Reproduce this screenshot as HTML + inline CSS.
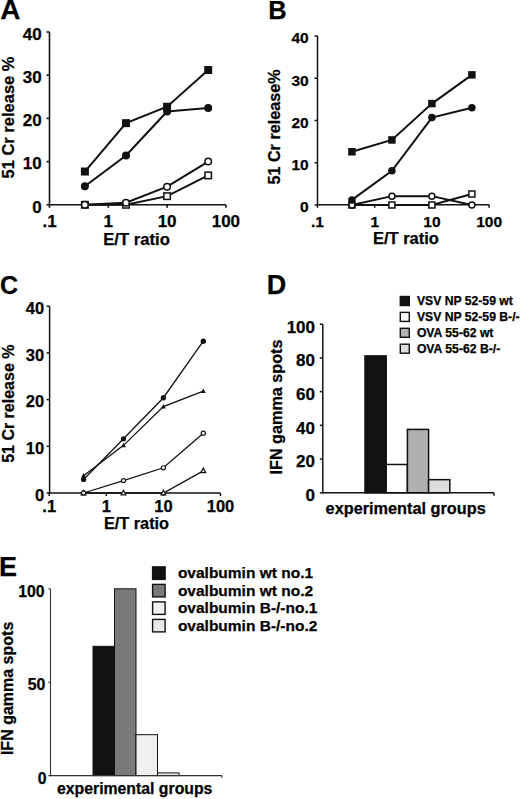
<!DOCTYPE html>
<html><head><meta charset="utf-8"><style>
html,body{margin:0;padding:0;background:#fff;}
svg{display:block;}
text{font-family:"Liberation Sans",sans-serif;font-weight:bold;fill:#000;stroke:#000;stroke-width:0.25px;paint-order:stroke;}
</style></head><body>
<svg width="520" height="799" viewBox="0 0 520 799">
<rect width="520" height="799" fill="#fff"/>
<text x="0.30" y="19.20" font-size="28" text-anchor="start" >A</text>
<line x1="49.50" y1="32.00" x2="49.50" y2="205.55" stroke="#111" stroke-width="1.6"/>
<line x1="48.75" y1="204.80" x2="225.90" y2="204.80" stroke="#111" stroke-width="1.6"/>
<line x1="46.50" y1="204.80" x2="49.50" y2="204.80" stroke="#111" stroke-width="1.6"/>
<text x="41.70" y="212.60" font-size="17" text-anchor="end" >0</text>
<line x1="46.50" y1="161.60" x2="49.50" y2="161.60" stroke="#111" stroke-width="1.6"/>
<text x="41.70" y="169.40" font-size="17" text-anchor="end" >10</text>
<line x1="46.50" y1="118.40" x2="49.50" y2="118.40" stroke="#111" stroke-width="1.6"/>
<text x="41.70" y="126.20" font-size="17" text-anchor="end" >20</text>
<line x1="46.50" y1="75.20" x2="49.50" y2="75.20" stroke="#111" stroke-width="1.6"/>
<text x="41.70" y="83.00" font-size="17" text-anchor="end" >30</text>
<line x1="46.50" y1="32.00" x2="49.50" y2="32.00" stroke="#111" stroke-width="1.6"/>
<text x="41.70" y="39.80" font-size="17" text-anchor="end" >40</text>
<line x1="49.50" y1="204.80" x2="49.50" y2="207.80" stroke="#111" stroke-width="1.6"/>
<text x="49.50" y="226.80" font-size="17" text-anchor="middle" >.1</text>
<line x1="108.30" y1="204.80" x2="108.30" y2="207.80" stroke="#111" stroke-width="1.6"/>
<text x="108.30" y="226.80" font-size="17" text-anchor="middle" >1</text>
<line x1="167.10" y1="204.80" x2="167.10" y2="207.80" stroke="#111" stroke-width="1.6"/>
<text x="167.10" y="226.80" font-size="17" text-anchor="middle" >10</text>
<line x1="225.90" y1="204.80" x2="225.90" y2="207.80" stroke="#111" stroke-width="1.6"/>
<text x="225.90" y="226.80" font-size="17" text-anchor="middle" >100</text>
<text x="103.20" y="244.80" font-size="16.7" text-anchor="start" >E/T ratio</text>
<text x="0" y="0" font-size="16.5" text-anchor="middle" transform="translate(13.80,117.50) rotate(-90)">51 Cr release %</text>
<polyline points="84.90,204.80 126.00,204.80 167.10,196.16 208.20,175.42" fill="none" stroke="#111" stroke-width="2" stroke-linejoin="miter"/>
<polyline points="84.90,204.80 126.00,202.64 167.10,186.66 208.20,161.60" fill="none" stroke="#111" stroke-width="2" stroke-linejoin="miter"/>
<polyline points="84.90,186.22 126.00,155.55 167.10,111.49 208.20,108.03" fill="none" stroke="#111" stroke-width="2" stroke-linejoin="miter"/>
<polyline points="84.90,171.54 126.00,123.15 167.10,106.74 208.20,70.02" fill="none" stroke="#111" stroke-width="2" stroke-linejoin="miter"/>
<rect x="81.65" y="201.55" width="6.5" height="6.5" fill="#fff" stroke="#111" stroke-width="1.5"/>
<rect x="122.75" y="201.55" width="6.5" height="6.5" fill="#fff" stroke="#111" stroke-width="1.5"/>
<rect x="163.85" y="192.91" width="6.5" height="6.5" fill="#fff" stroke="#111" stroke-width="1.5"/>
<rect x="204.95" y="172.17" width="6.5" height="6.5" fill="#fff" stroke="#111" stroke-width="1.5"/>
<circle cx="84.90" cy="204.80" r="3.25" fill="#fff" stroke="#111" stroke-width="1.5"/>
<circle cx="126.00" cy="202.64" r="3.25" fill="#fff" stroke="#111" stroke-width="1.5"/>
<circle cx="167.10" cy="186.66" r="3.25" fill="#fff" stroke="#111" stroke-width="1.5"/>
<circle cx="208.20" cy="161.60" r="3.25" fill="#fff" stroke="#111" stroke-width="1.5"/>
<circle cx="84.90" cy="186.22" r="4.0" fill="#111"/>
<circle cx="126.00" cy="155.55" r="4.0" fill="#111"/>
<circle cx="167.10" cy="111.49" r="4.0" fill="#111"/>
<circle cx="208.20" cy="108.03" r="4.0" fill="#111"/>
<rect x="80.90" y="167.54" width="8" height="8" fill="#111"/>
<rect x="122.00" y="119.15" width="8" height="8" fill="#111"/>
<rect x="163.10" y="102.74" width="8" height="8" fill="#111"/>
<rect x="204.20" y="66.02" width="8" height="8" fill="#111"/>
<text x="268.30" y="19.40" font-size="25.5" text-anchor="start" >B</text>
<line x1="317.50" y1="36.00" x2="317.50" y2="205.55" stroke="#111" stroke-width="1.5"/>
<line x1="316.75" y1="204.80" x2="489.10" y2="204.80" stroke="#111" stroke-width="1.5"/>
<line x1="314.50" y1="205.00" x2="317.50" y2="205.00" stroke="#111" stroke-width="1.5"/>
<text x="308.70" y="212.40" font-size="15.5" text-anchor="end" >0</text>
<line x1="314.50" y1="162.75" x2="317.50" y2="162.75" stroke="#111" stroke-width="1.5"/>
<text x="308.70" y="170.15" font-size="15.5" text-anchor="end" >10</text>
<line x1="314.50" y1="120.50" x2="317.50" y2="120.50" stroke="#111" stroke-width="1.5"/>
<text x="308.70" y="127.90" font-size="15.5" text-anchor="end" >20</text>
<line x1="314.50" y1="78.25" x2="317.50" y2="78.25" stroke="#111" stroke-width="1.5"/>
<text x="308.70" y="85.65" font-size="15.5" text-anchor="end" >30</text>
<line x1="314.50" y1="36.00" x2="317.50" y2="36.00" stroke="#111" stroke-width="1.5"/>
<text x="308.70" y="43.40" font-size="15.5" text-anchor="end" >40</text>
<line x1="317.50" y1="204.80" x2="317.50" y2="207.80" stroke="#111" stroke-width="1.5"/>
<text x="317.50" y="226.60" font-size="15.5" text-anchor="middle" >.1</text>
<line x1="374.70" y1="204.80" x2="374.70" y2="207.80" stroke="#111" stroke-width="1.5"/>
<text x="374.70" y="226.60" font-size="15.5" text-anchor="middle" >1</text>
<line x1="431.90" y1="204.80" x2="431.90" y2="207.80" stroke="#111" stroke-width="1.5"/>
<text x="431.90" y="226.60" font-size="15.5" text-anchor="middle" >10</text>
<line x1="489.10" y1="204.80" x2="489.10" y2="207.80" stroke="#111" stroke-width="1.5"/>
<text x="489.10" y="226.60" font-size="15.5" text-anchor="middle" >100</text>
<text x="372.90" y="243.50" font-size="16.5" text-anchor="start" >E/T ratio</text>
<text x="0" y="0" font-size="16.2" text-anchor="middle" transform="translate(280.40,127.00) rotate(-90)">51 Cr release%</text>
<polyline points="351.94,205.00 391.92,205.00 431.90,205.00 471.88,194.01" fill="none" stroke="#111" stroke-width="2" stroke-linejoin="miter"/>
<polyline points="351.94,205.00 391.92,196.13 431.90,196.13 471.88,205.00" fill="none" stroke="#111" stroke-width="2" stroke-linejoin="miter"/>
<polyline points="351.94,199.93 391.92,170.78 431.90,117.54 471.88,107.83" fill="none" stroke="#111" stroke-width="2" stroke-linejoin="miter"/>
<polyline points="351.94,151.77 391.92,139.94 431.90,103.60 471.88,74.87" fill="none" stroke="#111" stroke-width="2" stroke-linejoin="miter"/>
<rect x="348.94" y="202.00" width="6.0" height="6.0" fill="#fff" stroke="#111" stroke-width="1.5"/>
<rect x="388.92" y="202.00" width="6.0" height="6.0" fill="#fff" stroke="#111" stroke-width="1.5"/>
<rect x="428.90" y="202.00" width="6.0" height="6.0" fill="#fff" stroke="#111" stroke-width="1.5"/>
<rect x="468.88" y="191.01" width="6.0" height="6.0" fill="#fff" stroke="#111" stroke-width="1.5"/>
<circle cx="351.94" cy="205.00" r="3.0" fill="#fff" stroke="#111" stroke-width="1.5"/>
<circle cx="391.92" cy="196.13" r="3.0" fill="#fff" stroke="#111" stroke-width="1.5"/>
<circle cx="431.90" cy="196.13" r="3.0" fill="#fff" stroke="#111" stroke-width="1.5"/>
<circle cx="471.88" cy="205.00" r="3.0" fill="#fff" stroke="#111" stroke-width="1.5"/>
<circle cx="351.94" cy="199.93" r="3.75" fill="#111"/>
<circle cx="391.92" cy="170.78" r="3.75" fill="#111"/>
<circle cx="431.90" cy="117.54" r="3.75" fill="#111"/>
<circle cx="471.88" cy="107.83" r="3.75" fill="#111"/>
<rect x="348.19" y="148.02" width="7.5" height="7.5" fill="#111"/>
<rect x="388.17" y="136.19" width="7.5" height="7.5" fill="#111"/>
<rect x="428.15" y="99.85" width="7.5" height="7.5" fill="#111"/>
<rect x="468.13" y="71.12" width="7.5" height="7.5" fill="#111"/>
<text x="-0.10" y="293.60" font-size="25" text-anchor="start" >C</text>
<line x1="49.60" y1="306.20" x2="49.60" y2="493.75" stroke="#111" stroke-width="1.5"/>
<line x1="48.85" y1="493.00" x2="220.50" y2="493.00" stroke="#111" stroke-width="1.5"/>
<line x1="46.60" y1="493.00" x2="49.60" y2="493.00" stroke="#111" stroke-width="1.5"/>
<text x="44.20" y="500.60" font-size="16.5" text-anchor="end" >0</text>
<line x1="46.60" y1="446.30" x2="49.60" y2="446.30" stroke="#111" stroke-width="1.5"/>
<text x="44.20" y="453.90" font-size="16.5" text-anchor="end" >10</text>
<line x1="46.60" y1="399.60" x2="49.60" y2="399.60" stroke="#111" stroke-width="1.5"/>
<text x="44.20" y="407.20" font-size="16.5" text-anchor="end" >20</text>
<line x1="46.60" y1="352.90" x2="49.60" y2="352.90" stroke="#111" stroke-width="1.5"/>
<text x="44.20" y="360.50" font-size="16.5" text-anchor="end" >30</text>
<line x1="46.60" y1="306.20" x2="49.60" y2="306.20" stroke="#111" stroke-width="1.5"/>
<text x="44.20" y="313.80" font-size="16.5" text-anchor="end" >40</text>
<line x1="49.20" y1="493.00" x2="49.20" y2="496.00" stroke="#111" stroke-width="1.5"/>
<text x="49.20" y="512.40" font-size="16.5" text-anchor="middle" >.1</text>
<line x1="106.30" y1="493.00" x2="106.30" y2="496.00" stroke="#111" stroke-width="1.5"/>
<text x="106.30" y="512.40" font-size="16.5" text-anchor="middle" >1</text>
<line x1="163.40" y1="493.00" x2="163.40" y2="496.00" stroke="#111" stroke-width="1.5"/>
<text x="163.40" y="512.40" font-size="16.5" text-anchor="middle" >10</text>
<line x1="220.50" y1="493.00" x2="220.50" y2="496.00" stroke="#111" stroke-width="1.5"/>
<text x="220.50" y="512.40" font-size="16.5" text-anchor="middle" >100</text>
<text x="103.90" y="529.00" font-size="16.3" text-anchor="start" >E/T ratio</text>
<text x="0" y="0" font-size="16" text-anchor="middle" transform="translate(13.80,403.70) rotate(-90)">51 Cr release %</text>
<polyline points="83.58,493.00 123.49,493.00 163.40,493.00 203.31,470.82" fill="none" stroke="#111" stroke-width="1.3" stroke-linejoin="miter"/>
<polyline points="83.58,493.00 123.49,480.62 163.40,467.78 203.31,433.22" fill="none" stroke="#111" stroke-width="1.3" stroke-linejoin="miter"/>
<polyline points="83.58,475.72 123.49,445.37 163.40,406.61 203.31,391.19" fill="none" stroke="#111" stroke-width="1.3" stroke-linejoin="miter"/>
<polyline points="83.58,479.46 123.49,438.83 163.40,397.73 203.31,341.23" fill="none" stroke="#111" stroke-width="1.3" stroke-linejoin="miter"/>
<polygon points="83.58,490.30 85.96,494.80 81.19,494.80" fill="#fff" stroke="#111" stroke-width="1.2"/>
<polygon points="123.49,490.30 125.87,494.80 121.10,494.80" fill="#fff" stroke="#111" stroke-width="1.2"/>
<polygon points="163.40,490.30 165.78,494.80 161.02,494.80" fill="#fff" stroke="#111" stroke-width="1.2"/>
<polygon points="203.31,468.11 205.70,472.62 200.93,472.62" fill="#fff" stroke="#111" stroke-width="1.2"/>
<circle cx="83.58" cy="493.00" r="2.05" fill="#fff" stroke="#111" stroke-width="1.2"/>
<circle cx="123.49" cy="480.62" r="2.05" fill="#fff" stroke="#111" stroke-width="1.2"/>
<circle cx="163.40" cy="467.78" r="2.05" fill="#fff" stroke="#111" stroke-width="1.2"/>
<circle cx="203.31" cy="433.22" r="2.05" fill="#fff" stroke="#111" stroke-width="1.2"/>
<polygon points="83.58,473.02 85.96,477.52 81.19,477.52" fill="#111"/>
<polygon points="123.49,442.66 125.87,447.17 121.10,447.17" fill="#111"/>
<polygon points="163.40,403.90 165.78,408.41 161.02,408.41" fill="#111"/>
<polygon points="203.31,388.49 205.70,393.00 200.93,393.00" fill="#111"/>
<circle cx="83.58" cy="479.46" r="2.65" fill="#111"/>
<circle cx="123.49" cy="438.83" r="2.65" fill="#111"/>
<circle cx="163.40" cy="397.73" r="2.65" fill="#111"/>
<circle cx="203.31" cy="341.23" r="2.65" fill="#111"/>
<text x="266.70" y="293.80" font-size="27" text-anchor="start" >D</text>
<rect x="365.00" y="355.90" width="21.20" height="136.90" fill="#111" stroke="#111" stroke-width="1.5"/>
<rect x="386.20" y="464.48" width="21.20" height="28.32" fill="#fff" stroke="#111" stroke-width="1.5"/>
<rect x="407.40" y="429.41" width="21.20" height="63.39" fill="#b0b0b0" stroke="#111" stroke-width="1.5"/>
<rect x="428.60" y="479.65" width="21.20" height="13.15" fill="#dedede" stroke="#111" stroke-width="1.5"/>
<line x1="322.80" y1="324.20" x2="322.80" y2="493.55" stroke="#111" stroke-width="1.5"/>
<line x1="322.05" y1="492.80" x2="494.00" y2="492.80" stroke="#111" stroke-width="1.5"/>
<line x1="494.00" y1="492.80" x2="494.00" y2="495.80" stroke="#111" stroke-width="1.5"/>
<line x1="319.80" y1="492.80" x2="322.80" y2="492.80" stroke="#111" stroke-width="1.5"/>
<text x="315.00" y="501.20" font-size="17" text-anchor="end" >0</text>
<line x1="319.80" y1="459.08" x2="322.80" y2="459.08" stroke="#111" stroke-width="1.5"/>
<text x="315.00" y="467.48" font-size="17" text-anchor="end" >20</text>
<line x1="319.80" y1="425.36" x2="322.80" y2="425.36" stroke="#111" stroke-width="1.5"/>
<text x="315.00" y="433.76" font-size="17" text-anchor="end" >40</text>
<line x1="319.80" y1="391.64" x2="322.80" y2="391.64" stroke="#111" stroke-width="1.5"/>
<text x="315.00" y="400.04" font-size="17" text-anchor="end" >60</text>
<line x1="319.80" y1="357.92" x2="322.80" y2="357.92" stroke="#111" stroke-width="1.5"/>
<text x="315.00" y="366.32" font-size="17" text-anchor="end" >80</text>
<line x1="319.80" y1="324.20" x2="322.80" y2="324.20" stroke="#111" stroke-width="1.5"/>
<text x="315.00" y="332.60" font-size="17" text-anchor="end" >100</text>
<text x="325.60" y="514.00" font-size="16.3" text-anchor="start" >experimental groups</text>
<text x="0" y="0" font-size="16.2" text-anchor="middle" transform="translate(282.00,407.00) rotate(-90)">IFN gamma spots</text>
<rect x="400.30" y="296.50" width="9.00" height="9.00" fill="#111" stroke="#111" stroke-width="1.4"/>
<text x="416.90" y="304.80" font-size="12.2" text-anchor="start" >VSV NP 52-59 wt</text>
<rect x="400.30" y="312.40" width="9.00" height="9.00" fill="#fff" stroke="#111" stroke-width="1.4"/>
<text x="416.90" y="320.70" font-size="12.2" text-anchor="start" >VSV NP 52-59 B-/-</text>
<rect x="400.30" y="328.30" width="9.00" height="9.00" fill="#b0b0b0" stroke="#111" stroke-width="1.4"/>
<text x="416.90" y="336.60" font-size="12.2" text-anchor="start" >OVA 55-62 wt</text>
<rect x="400.30" y="344.20" width="9.00" height="9.00" fill="#dedede" stroke="#111" stroke-width="1.4"/>
<text x="416.90" y="352.50" font-size="12.2" text-anchor="start" >OVA 55-62 B-/-</text>
<text x="-1.00" y="575.80" font-size="27" text-anchor="start" >E</text>
<rect x="93.00" y="646.33" width="21.50" height="129.27" fill="#111" stroke="#111" stroke-width="1.0"/>
<rect x="114.50" y="588.80" width="21.50" height="186.80" fill="#7a7a7a" stroke="#111" stroke-width="1.0"/>
<rect x="136.00" y="734.69" width="21.50" height="40.91" fill="#f0f0f0" stroke="#111" stroke-width="1.0"/>
<rect x="157.50" y="772.89" width="21.50" height="2.71" fill="#e8e8e8" stroke="#111" stroke-width="1.0"/>
<line x1="50.50" y1="588.80" x2="50.50" y2="776.35" stroke="#333" stroke-width="1.1"/>
<line x1="49.75" y1="775.60" x2="222.00" y2="775.60" stroke="#333" stroke-width="1.1"/>
<line x1="222.00" y1="775.60" x2="222.00" y2="777.80" stroke="#333" stroke-width="1.1"/>
<line x1="48.30" y1="775.60" x2="50.50" y2="775.60" stroke="#333" stroke-width="1.1"/>
<text x="46.60" y="783.70" font-size="15.8" text-anchor="end" >0</text>
<line x1="48.30" y1="682.20" x2="50.50" y2="682.20" stroke="#333" stroke-width="1.1"/>
<text x="45.40" y="690.00" font-size="15.8" text-anchor="end" >50</text>
<line x1="48.30" y1="588.80" x2="50.50" y2="588.80" stroke="#333" stroke-width="1.1"/>
<text x="44.60" y="596.60" font-size="15.8" text-anchor="end" >100</text>
<text x="57.00" y="794.40" font-size="15.8" text-anchor="start" >experimental groups</text>
<text x="0" y="0" font-size="16" text-anchor="middle" transform="translate(13.00,688.40) rotate(-90)">IFN gamma spots</text>
<rect x="152.60" y="566.90" width="12.50" height="12.50" fill="#111" stroke="#111" stroke-width="1.4"/>
<text x="177.90" y="578.20" font-size="15.5" text-anchor="start" >ovalbumin wt no.1</text>
<rect x="152.60" y="584.40" width="12.50" height="12.50" fill="#7a7a7a" stroke="#111" stroke-width="1.4"/>
<text x="177.90" y="595.70" font-size="15.5" text-anchor="start" >ovalbumin wt no.2</text>
<rect x="152.60" y="601.90" width="12.50" height="12.50" fill="#f0f0f0" stroke="#111" stroke-width="1.4"/>
<text x="177.90" y="613.20" font-size="15.5" text-anchor="start" >ovalbumin B-/-no.1</text>
<rect x="152.60" y="619.40" width="12.50" height="12.50" fill="#e8e8e8" stroke="#111" stroke-width="1.4"/>
<text x="177.90" y="630.70" font-size="15.5" text-anchor="start" >ovalbumin B-/-no.2</text>
</svg></body></html>
